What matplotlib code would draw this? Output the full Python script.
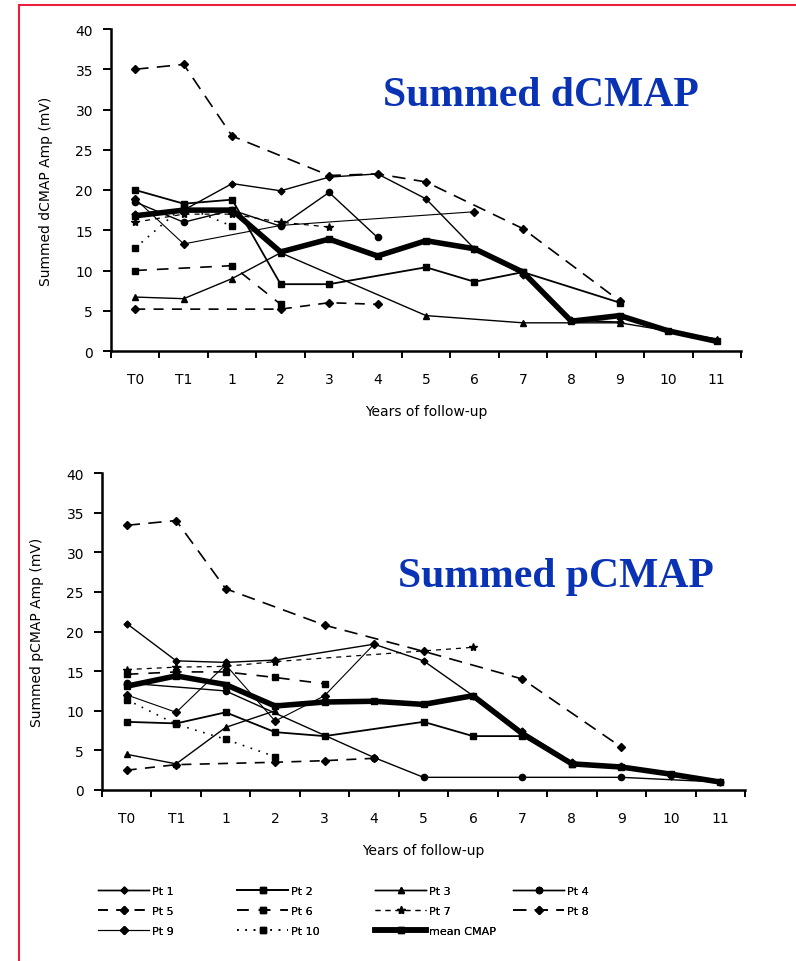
import matplotlib
matplotlib.use("Agg")
import matplotlib.pyplot as plt
from matplotlib.lines import Line2D
from matplotlib.ticker import FixedLocator, NullFormatter, FixedFormatter

# categorii pe axa X
categories = ['T0', 'T1', '1', '2', '3', '4', '5', '6', '7', '8', '9', '10', '11']

# Summed dCMAP (mV)
pt1_d = [17.0, 17.5, 20.8, 19.9, 21.6, 22.0, 18.9, 12.7, 9.5, 3.8, 3.6, None, None]
pt2_d = [20.0, 18.3, 18.8, 8.3, 8.3, None, 10.4, 8.6, 9.8, None, 6.0, None, None]
pt3_d = [6.7, 6.5, 9.0, 12.2, None, None, 4.4, None, 3.5, None, 3.5, None, 1.5]
pt4_d = [18.5, 16.0, 17.5, 15.5, 19.7, 14.1, None, None, None, None, None, None, None]
pt5_d = [5.2, None, None, 5.2, 6.0, 5.8, None, None, None, None, None, None, None]
pt6_d = [10.0, None, 10.6, 5.8, None, None, None, None, None, None, None, None, None]
pt7_d = [16.0, 17.0, 17.0, 16.0, 15.4, None, None, None, None, None, None, None, None]
pt8_d = [35.0, 35.6, 26.7, None, 21.8, 22.0, 21.0, None, 15.2, None, 6.2, None, None]
pt9_d = [18.9, 13.3, None, 15.6, None, None, None, 17.3, None, None, None, None, None]
pt10_d = [12.8, 18.0, 15.5, None, None, None, None, None, None, None, None, None, None]
mean_d = [16.8, 17.5, 17.5, 12.3, 13.9, 11.8, 13.7, 12.7, 9.8, 3.7, 4.4, 2.5, 1.2]

# Summed pCMAP (mV)
pt1_p = [21.0, 16.3, 16.1, 16.4, None, 18.4, 16.3, 11.9, 7.4, 3.5, 3.0, 1.8, 1.0]
pt2_p = [8.6, 8.4, 9.8, 7.3, 6.8, None, 8.6, 6.8, 6.8, 3.3, None, None, None]
pt3_p = [4.5, 3.3, 7.9, 10.0, None, None, None, None, None, None, None, None, None]
pt4_p = [13.5, None, 12.5, None, None, 4.1, 1.6, None, 1.6, None, 1.6, None, 1.0]
pt5_p = [2.5, 3.2, None, 3.5, 3.7, 4.0, None, None, None, None, None, None, None]
pt6_p = [14.6, 14.9, 14.9, 14.2, 13.4, None, None, None, None, None, None, None, None]
pt7_p = [15.2, 15.5, 15.6, 16.2, None, None, None, 18.0, None, None, None, None, None]
pt8_p = [33.4, 34.0, 25.4, None, 20.8, None, 17.5, None, 14.0, None, 5.4, None, None]
pt9_p = [12.0, 9.8, 15.8, 8.7, 11.9, 18.4, None, None, None, None, None, None, None]
pt10_p = [11.4, 8.3, 6.4, 4.2, None, None, None, None, None, None, None, None, None]
mean_p = [13.1, 14.4, 13.3, 10.6, 11.1, 11.2, 10.8, 11.9, 7.1, 3.3, 2.9, 2.0, 1.0]

labels = ['Pt 1', 'Pt 2', 'Pt 3', 'Pt 4', 'Pt 5', 'Pt 6', 'Pt 7', 'Pt 8',
          'Pt 9', 'Pt 10', 'mean CMAP']

# stiluri pentru fiecare pacient
styles = [
    dict(ls='-', lw=1.0, marker='D', ms=3.5),
    dict(ls='-', lw=1.3, marker='s', ms=5),
    dict(ls='-', lw=1.0, marker='^', ms=5),
    dict(ls='-', lw=1.0, marker='o', ms=4.5),
    dict(ls=(0, (6, 5)), lw=1.2, marker='D', ms=4),
    dict(ls=(0, (7, 6)), lw=1.2, marker='s', ms=5),
    dict(ls=(0, (4, 4)), lw=0.9, marker='*', ms=6),
    dict(ls=(0, (8, 5)), lw=1.2, marker='D', ms=4.5),
    dict(ls='-', lw=0.8, marker='D', ms=4),
    dict(ls=(0, (1, 4)), lw=1.2, marker='s', ms=5),
    dict(ls='-', lw=4.0, marker='s', ms=4),
]

TICK_FONT = 'DejaVu Sans'
BLUE = '#0a32b4'


def plot_series(ax, values, style):
    xs = [i for i, v in enumerate(values) if v is not None]
    ys = [v for v in values if v is not None]
    ax.plot(xs, ys, color='black', mfc='black', mec='black', **style)


def setup_axes(ax, ylabel):
    ax.set_xlim(-0.5, 12.5)
    ax.set_ylim(0, 40)
    ax.spines['top'].set_visible(False)
    ax.spines['right'].set_visible(False)
    ax.spines['left'].set_linewidth(1.8)
    ax.spines['bottom'].set_linewidth(1.8)
    ax.set_yticks(range(0, 41, 5))
    ax.tick_params(axis='y', direction='out', length=6, width=1.4, pad=7, labelsize=10)
    # tick-uri intre categorii, etichete centrate
    ax.xaxis.set_major_locator(FixedLocator([i - 0.5 for i in range(14)]))
    ax.xaxis.set_major_formatter(NullFormatter())
    ax.xaxis.set_minor_locator(FixedLocator(list(range(13))))
    ax.xaxis.set_minor_formatter(FixedFormatter(categories))
    ax.tick_params(axis='x', which='major', direction='out', length=5, width=1.4)
    ax.tick_params(axis='x', which='minor', length=0, pad=15, labelsize=10)
    for lab in ax.get_yticklabels() + ax.get_xticklabels(minor=True):
        lab.set_fontfamily(TICK_FONT)
    ax.set_xlabel('Years of follow-up', fontsize=10, family=TICK_FONT, labelpad=13)
    ax.set_ylabel(ylabel, fontsize=10, family=TICK_FONT, labelpad=16)


fig = plt.figure(figsize=(7.96, 9.62), dpi=100)

ax1 = fig.add_axes([111 / 796, 1 - 352 / 962, 630 / 796, 322 / 962])
ax2 = fig.add_axes([102 / 796, 1 - 791 / 962, 643 / 796, 317 / 962])

data_d = [pt1_d, pt2_d, pt3_d, pt4_d, pt5_d, pt6_d, pt7_d, pt8_d, pt9_d, pt10_d, mean_d]
data_p = [pt1_p, pt2_p, pt3_p, pt4_p, pt5_p, pt6_p, pt7_p, pt8_p, pt9_p, pt10_p, mean_p]

for vals, st in zip(data_d, styles):
    plot_series(ax1, vals, st)
for vals, st in zip(data_p, styles):
    plot_series(ax2, vals, st)

setup_axes(ax1, 'Summed dCMAP Amp (mV)')
setup_axes(ax2, 'Summed pCMAP Amp (mV)')

fig.text(541 / 796, 1 - 106 / 962, 'Summed dCMAP', color=BLUE, fontsize=30,
         fontweight='bold', family='Liberation Serif', ha='center', va='baseline')
fig.text(556 / 796, 1 - 587 / 962, 'Summed pCMAP', color=BLUE, fontsize=30,
         fontweight='bold', family='Liberation Serif', ha='center', va='baseline')

# legenda: 4 coloane asezate la pozitii fixe, ordonate pe randuri
handles = [Line2D([], [], color='black', mfc='black', mec='black', **st) for st in styles]
col_x = [98, 237, 375, 513]
for c, x0 in enumerate(col_x):
    idx = [i for i in range(c, len(labels), 4)]
    leg = fig.legend([handles[i] for i in idx], [labels[i] for i in idx],
                     loc='upper left', bbox_to_anchor=(x0 / 796, 1 - 887 / 962),
                     frameon=False, handlelength=4.6, handletextpad=0.3,
                     borderpad=0, borderaxespad=0, labelspacing=0.9,
                     prop={'family': TICK_FONT, 'size': 8})
    fig.add_artist(leg)

# chenar rosu
red = '#e8203c'
fig.add_artist(Line2D([19 / 796, 19 / 796], [0, 1 - 6 / 962], color=red, lw=1.5,
                      transform=fig.transFigure))
fig.add_artist(Line2D([19 / 796, 1], [1 - 6 / 962, 1 - 6 / 962], color=red, lw=1.5,
                      transform=fig.transFigure))

fig.savefig('out.png', dpi=100)
